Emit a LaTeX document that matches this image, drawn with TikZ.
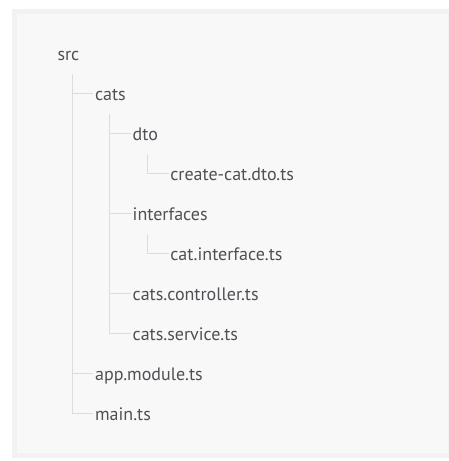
\documentclass[tikz,border=0pt]{standalone}
\usepackage{fontspec}
\setmainfont{PT Sans}
\usepackage{xcolor}
\definecolor{panelfill}{HTML}{F8F8F8}
\definecolor{paneledge}{HTML}{F2F2F2}
\definecolor{treeline}{HTML}{DCDCDC}
\definecolor{treetext}{HTML}{4F4F55}
\tikzset{
	entry/.style={anchor=west, inner xsep=1.5pt, inner ysep=0pt, text height=14pt, text depth=0pt, text=treetext, font=\fontsize{18}{21}\selectfont},
	branch/.style={draw=treeline, line width=1pt},
}
\begin{document}
\begin{tikzpicture}[x=1pt,y=-1pt]
					\useasboundingbox (0,0) rectangle (449,461);
					\fill[white] (0,0) rectangle (449,461);
					\filldraw[fill=panelfill, draw=paneledge, line width=5pt] (14.2,11.5) rectangle (450.2,455.6);
					
					\node[entry] (src) at (55.8, 53) {src};
					\node[entry] (cats) at (93.4, 93) {cats};
					\node[entry] (dto) at (131, 133) {dto};
					\node[entry] (createdto) at (168.6, 173) {create-cat.dto.ts};
					\node[entry] (interfaces) at (131, 213) {interfaces};
					\node[entry] (catinterface) at (168.6, 253) {cat.interface.ts};
					\node[entry] (controller) at (131, 293) {cats.controller.ts};
					\node[entry] (service) at (131, 333) {cats.service.ts};
					\node[entry] (appmodule) at (93.4, 373) {app.module.ts};
					\node[entry] (maints) at (93.4, 413) {main.ts};
					
					\coordinate (srcstem) at (72.3, 74);
					\coordinate (catsstem) at (109.9, 114);
					\coordinate (dtostem) at (147.5, 154);
					\coordinate (interfacesstem) at (147.5, 234);
					
					\draw[branch] (srcstem) |- (cats.west);
					\draw[branch] (srcstem) |- (appmodule.west);
					\draw[branch] (srcstem) |- (maints.west);
					\draw[branch] (catsstem) |- (dto.west);
					\draw[branch] (catsstem) |- (interfaces.west);
					\draw[branch] (catsstem) |- (controller.west);
					\draw[branch] (catsstem) |- (service.west);
					\draw[branch] (dtostem) |- (createdto.west);
					\draw[branch] (interfacesstem) |- (catinterface.west);
				\end{tikzpicture}
\end{document}
